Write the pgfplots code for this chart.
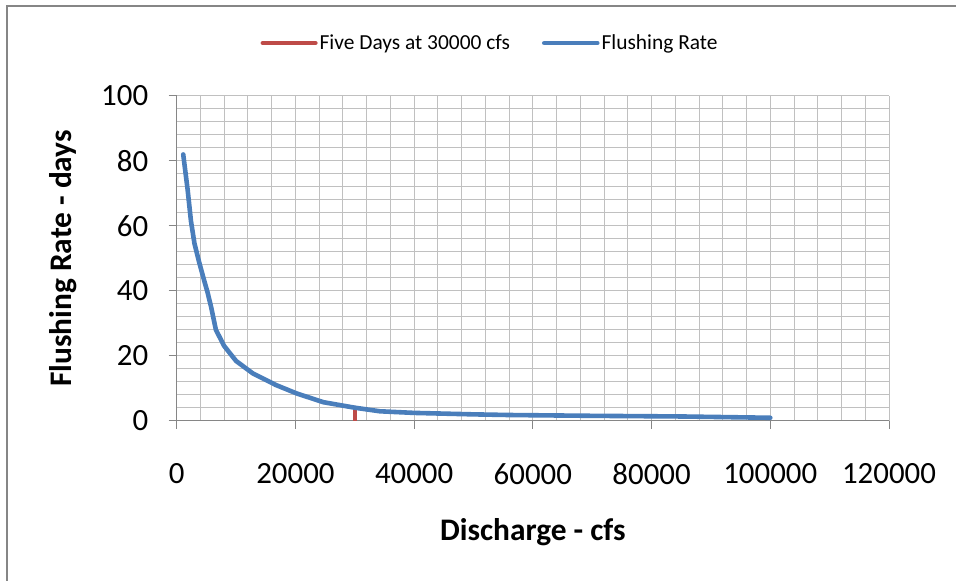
\documentclass[border=0pt]{standalone}
\usepackage{pgfplots}
\pgfplotsset{compat=1.18}
\usepackage{fontspec}
\setmainfont{Carlito}
\definecolor{xlblue}{RGB}{74,126,187}
\definecolor{xlred}{RGB}{190,75,72}
\definecolor{gridgray}{RGB}{192,192,192}
\definecolor{axgray}{RGB}{134,134,134}
\begin{document}
\begin{tikzpicture}[x=1bp,y=1bp]
\useasboundingbox (0,0) rectangle (956,581);
\draw[axgray, line width=1.6bp] (7,0) -- (7,575) -- (956,575);
\begin{axis}[
  at={(176.7bp,160.3bp)}, anchor=south west,
  scale only axis, width=712.3bp, height=324.7bp,
  xmin=0, xmax=120000, ymin=0, ymax=100,
  xtick={0,20000,...,120000}, ytick={0,20,...,100},
  minor x tick num=4, minor y tick num=4,
  grid=both,
  major grid style={gridgray, line width=1bp},
  minor grid style={gridgray, line width=1bp},
  axis x line*=bottom, axis y line*=left,
  axis line style={axgray, line width=1bp, -},
  tick align=outside, major tick length=8bp, minor tick length=0pt,
  tick style={axgray, line width=1bp},
  scaled x ticks=false,
  /pgf/number format/assume math mode=true,
  xticklabel style={/pgf/number format/fixed, /pgf/number format/1000 sep={}, yshift=-31bp},
  yticklabel style={xshift=-17bp},
  ticklabel style={font=\fontsize{31}{37}\selectfont, text=black},
  xlabel={Discharge - cfs},
  ylabel={Flushing Rate - days},
  xlabel style={at={(axis description cs:0.5,-0.343)}, anchor=center, font=\bfseries\fontsize{31.5}{37}\selectfont},
  ylabel style={at={(axis description cs:-0.159,0.5)}, anchor=center, rotate=0, font=\bfseries\fontsize{31.5}{37}\selectfont},
  legend style={at={(axis description cs:0.44,1.163)}, anchor=center, draw=none, fill=none,
    font=\fontsize{21.5}{26}\selectfont, legend columns=2,
    /tikz/every even column/.append style={column sep=30bp}},
  legend image code/.code={\draw[#1] (0bp,0bp) -- (53bp,0bp);},
]
\addplot[xlred, line width=4bp, line cap=round] coordinates {(30000,0) (30000,4)};
\addlegendentry{Five Days at 30000 cfs}
\addplot[xlblue, line width=4.6bp, line join=round, line cap=round] coordinates {
(1100,82) (1850,71) (2400,61.5) (3000,54.5) (3800,48.7) (4500,44) (5200,39.5) (5800,35)
(6600,28) (8000,23) (10000,18.4) (12800,14.6) (16700,11) (20200,8.4) (24700,5.7)
(30000,4) (34200,2.9) (40000,2.4) (50000,1.95) (56000,1.75) (70000,1.5) (85000,1.3) (100000,0.9)};
\addlegendentry{Flushing Rate}
\end{axis}
\end{tikzpicture}
\end{document}
